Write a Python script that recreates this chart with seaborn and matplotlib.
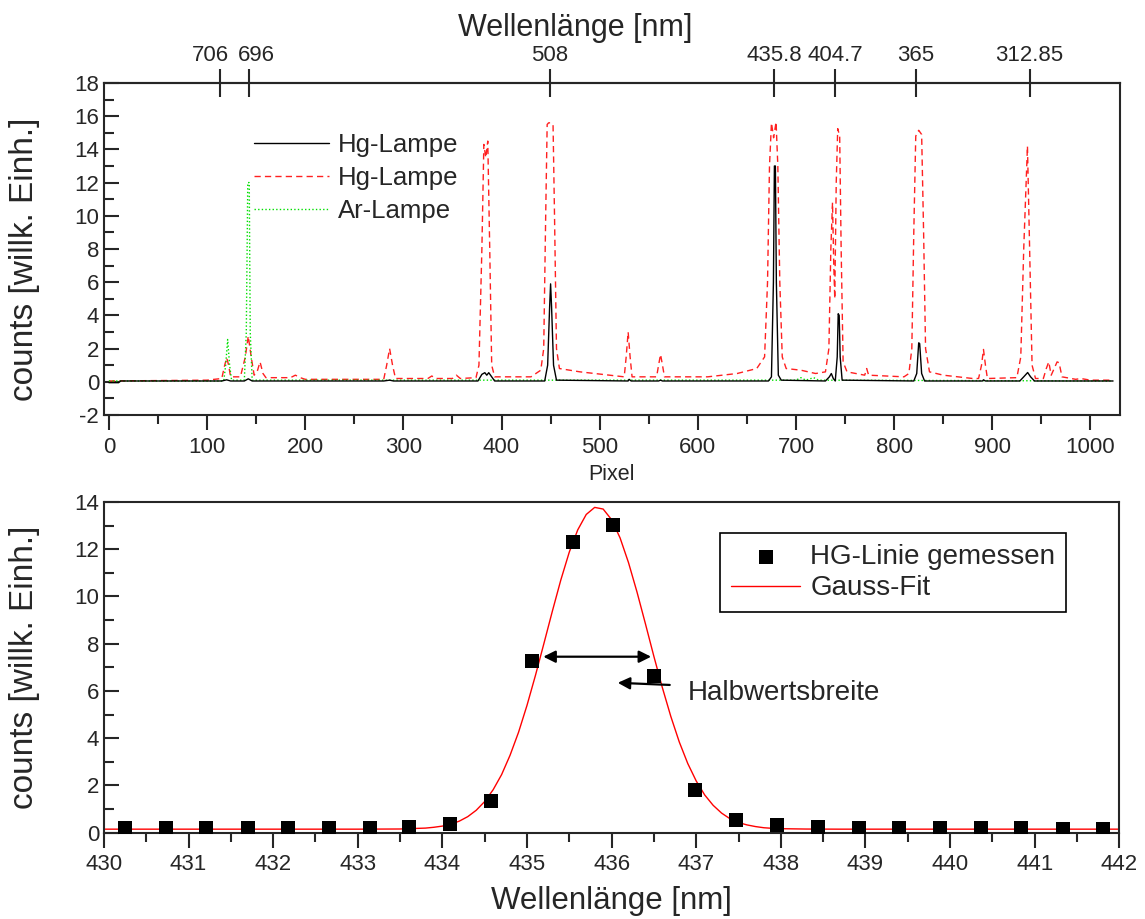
import pandas as pd
import seaborn as sns
import matplotlib.pyplot as plt
from matplotlib.ticker import MultipleLocator
from matplotlib.transforms import ScaledTranslation

#%% Data
# Hg lamp, short exposure (black, solid) -- pixel / counts vertices
hg1_px = [0, 10, 12, 115, 120, 124, 138, 142, 146, 280, 286, 290, 376, 380, 383, 385, 387, 390, 393,
          444, 447, 449, 450, 451, 453, 456, 529, 530, 532, 560, 562, 564, 672, 675, 677, 678, 679,
          680, 682, 685, 730, 734, 736, 738, 740, 742, 743, 744, 745, 747, 820, 823, 825, 826, 828,
          831, 890, 891, 893, 928, 932, 936, 939, 943, 1023]
hg1_counts = [-0.05, -0.05, 0.05, 0.05, 0.12, 0.05, 0.05, 0.18, 0.05, 0.05, 0.1, 0.05, 0.05, 0.45, 0.55,
              0.4, 0.55, 0.3, 0.05, 0.05, 1.0, 4.5, 5.9, 4.5, 1.0, 0.1, 0.05, 0.15, 0.05, 0.05, 0.1,
              0.05, 0.05, 0.3, 6.0, 13.0, 13.0, 6.0, 0.4, 0.1, 0.05, 0.3, 0.5, 0.2, 0.05, 1.5, 4.1,
              4.0, 1.5, 0.1, 0.05, 0.5, 2.35, 2.3, 0.5, 0.05, 0.05, 0.12, 0.05, 0.05, 0.3, 0.56, 0.3,
              0.05, 0.05]

# Hg lamp, long exposure (red, dashed)
hg2_px = [0, 100, 115, 118, 120, 122, 124, 134, 139, 142, 145, 148, 151, 154, 157, 160, 185, 190, 195,
          200, 280, 283, 286, 289, 292, 325, 329, 333, 350, 354, 358, 374, 377, 380, 382, 384, 386,
          388, 390, 393, 430, 440, 443, 445, 446.5, 448, 450, 452.5, 454, 456, 459, 480, 510, 525,
          527, 529, 531, 533, 558, 560, 562, 564, 566, 610, 640, 660, 668, 671, 673, 675, 677.2,
          679.7, 681.5, 683.5, 686, 690, 705, 720, 730, 733.5, 735.5, 737.2, 738.5, 739.5, 741,
          742.5, 744.5, 746, 748, 752, 770, 772, 774, 810, 815, 818, 820, 822, 825, 828, 830, 832,
          836, 850, 880, 886, 889, 891, 893, 895, 925, 929, 932, 935.8, 938, 940.5, 944, 952, 955,
          957.5, 960, 963, 966, 968, 971, 985, 990, 1000, 1023]
hg2_counts = [0.05, 0.1, 0.2, 1.0, 1.45, 1.0, 0.3, 0.3, 1.5, 2.75, 1.5, 0.4, 0.6, 1.2, 0.5, 0.25, 0.25,
              0.4, 0.25, 0.15, 0.15, 1.0, 2.0, 1.0, 0.2, 0.2, 0.35, 0.2, 0.2, 0.4, 0.2, 0.25, 1.0,
              8.0, 14.3, 13.5, 14.5, 8.0, 1.0, 0.3, 0.3, 0.7, 2.0, 10.0, 15.5, 15.6, 15.6, 15.5, 10.0,
              2.0, 0.8, 0.6, 0.4, 0.3, 1.5, 3.0, 1.5, 0.3, 0.3, 1.0, 1.65, 1.0, 0.3, 0.3, 0.5, 0.8,
              1.5, 6.0, 13.0, 15.6, 14.7, 15.65, 13.0, 6.0, 1.5, 0.8, 0.7, 0.5, 0.6, 2.0, 8.0, 10.8,
              7.0, 5.0, 12.0, 15.25, 14.8, 8.0, 1.2, 0.6, 0.4, 0.8, 0.4, 0.3, 0.5, 2.0, 9.0, 14.8,
              15.15, 14.9, 9.0, 2.0, 0.6, 0.4, 0.2, 0.2, 1.0, 1.95, 1.0, 0.2, 0.25, 1.5, 8.0, 14.2,
              8.0, 1.0, 0.2, 0.2, 0.8, 1.2, 0.4, 0.8, 1.2, 1.15, 0.3, 0.15, 0.2, 0.1, 0.1]

# Ar lamp (green, dotted)
ar_px = [0, 117, 119, 121, 123, 125, 138, 140, 141.5, 143, 144, 146, 700, 705, 710, 718, 723, 1023]
ar_counts = [0.05, 0.05, 1.0, 2.55, 1.0, 0.1, 0.1, 3.0, 12.0, 12.0, 3.0, 0.1, 0.1, 0.25, 0.1, 0.25,
             0.1, 0.05]

# known wavelengths on the top axis
top_px = [113.7, 142.6, 449.3, 678, 740, 822, 938]
top_labels = ["706", "696", "508", "435.8", "404.7", "365", "312.85"]

# single Hg line, measured
line_wl = [430.25, 430.73, 431.21, 431.70, 432.18, 432.66, 433.14, 433.61, 434.09, 434.58, 435.06,
           435.54, 436.02, 436.50, 436.99, 437.47, 437.95, 438.44, 438.92, 439.40, 439.88, 440.37,
           440.84, 441.33, 441.81]
line_counts = [0.18, 0.18, 0.18, 0.18, 0.18, 0.18, 0.19, 0.23, 0.35, 1.35, 7.25, 12.3, 13.04, 6.65,
               1.80, 0.54, 0.32, 0.25, 0.21, 0.19, 0.18, 0.18, 0.18, 0.17, 0.17]

# Gauss fit curve
fit_wl = [430.0, 433.0, 433.5, 433.8, 433.9, 434.0, 434.1, 434.2, 434.3, 434.4, 434.5, 434.6, 434.7,
          434.8, 434.9, 435.0, 435.1, 435.2, 435.3, 435.4, 435.5, 435.6, 435.7, 435.8, 435.9, 436.0,
          436.1, 436.2, 436.3, 436.4, 436.5, 436.6, 436.7, 436.8, 436.9, 437.0, 437.1, 437.2, 437.3,
          437.4, 437.5, 437.6, 437.7, 437.8, 437.9, 438.0, 438.3, 438.7, 442.0]
fit_counts = [0.15, 0.15, 0.157, 0.195, 0.23, 0.28, 0.36, 0.49, 0.68, 0.95, 1.32, 1.82, 2.46, 3.28,
              4.25, 5.39, 6.66, 8.01, 9.38, 10.70, 11.88, 12.82, 13.47, 13.77, 13.70, 13.25, 12.48,
              11.43, 10.19, 8.84, 7.46, 6.14, 4.92, 3.84, 2.93, 2.19, 1.60, 1.16, 0.83, 0.59, 0.43,
              0.33, 0.26, 0.21, 0.185, 0.17, 0.155, 0.15, 0.15]

#%% Style
sns.set_style("ticks")
plt.rcParams["font.family"] = ["Liberation Sans", "DejaVu Sans"]
plt.rcParams["axes.linewidth"] = 1.5
plt.rcParams["axes.unicode_minus"] = False

fig = plt.figure(figsize=(11.45, 9.19), dpi=100)
ax1 = fig.add_axes([0.0908, 0.5484, 0.8873, 0.3613])
ax2 = fig.add_axes([0.0908, 0.0939, 0.8867, 0.3599])

#%% Top panel: spectra
sns.lineplot(x=hg2_px, y=hg2_counts, ax=ax1, sort=False, estimator=None, color="#ff2020",
             lw=1.0, dashes=(4.5, 3))
sns.lineplot(x=ar_px, y=ar_counts, ax=ax1, sort=False, estimator=None, color="#00e000",
             lw=1.0, dashes=(1, 1.6))
sns.lineplot(x=hg1_px, y=hg1_counts, ax=ax1, sort=False, estimator=None, color="black", lw=1.0)
red_line, green_line, black_line = ax1.get_lines()[:3]

ax1.set_xlim(-5, 1030)
ax1.set_ylim(-2, 18)
ax1.xaxis.set_major_locator(MultipleLocator(100))
ax1.xaxis.set_minor_locator(MultipleLocator(50))
ax1.yaxis.set_major_locator(MultipleLocator(2))
ax1.yaxis.set_minor_locator(MultipleLocator(1))
ax1.tick_params(axis="x", which="both", direction="out", top=False, width=1.5, labelsize=16, pad=5)
ax1.tick_params(axis="x", which="major", length=11)
ax1.tick_params(axis="x", which="minor", length=6.5)
ax1.tick_params(axis="y", which="both", direction="in", right=False, width=1.5, labelsize=16)
ax1.tick_params(axis="y", which="major", length=11)
ax1.tick_params(axis="y", which="minor", length=7)
ax1.set_xlabel("Pixel", fontsize=15.5, labelpad=4)
ax1.set_ylabel("counts [willk. Einh.]", fontsize=24)
ax1.yaxis.set_label_coords(-0.063, 0.47)

ax1.legend(handles=[black_line, red_line, green_line], labels=["Hg-Lampe", "Hg-Lampe", "Ar-Lampe"],
           loc="upper left", bbox_to_anchor=(0.148, 0.85), frameon=False, fontsize=18.5,
           borderpad=0, borderaxespad=0, handlelength=2.9, handletextpad=0.35, labelspacing=0.35)

sec = ax1.secondary_xaxis("top")
sec.set_xticks(top_px, labels=top_labels)
sec.tick_params(direction="inout", length=20, width=1.5, labelsize=16, pad=2)
sec.set_xlabel("Wellenlänge [nm]", fontsize=22)
sec.xaxis.set_label_coords(0.4636, 1.142, transform=ax1.transAxes)
for lab, dx in zip(sec.get_xticklabels(), [-10, 8, 0, 0, 0, 0, 0]):
    lab.set_transform(lab.get_transform() + ScaledTranslation(dx / 100, 0, fig.dpi_scale_trans))

#%% Bottom panel: single line with Gauss fit
sns.scatterplot(x=line_wl, y=line_counts, ax=ax2, marker="s", s=95, color="black", linewidth=0,
                label="HG-Linie gemessen", zorder=3)
sns.lineplot(x=fit_wl, y=fit_counts, ax=ax2, sort=False, estimator=None, color="red", lw=1.0,
             label="Gauss-Fit", zorder=2)

ax2.set_xlim(430, 442)
ax2.set_ylim(0, 14)
ax2.xaxis.set_major_locator(MultipleLocator(1))
ax2.xaxis.set_minor_locator(MultipleLocator(0.5))
ax2.yaxis.set_major_locator(MultipleLocator(2))
ax2.yaxis.set_minor_locator(MultipleLocator(1))
ax2.tick_params(axis="x", which="both", direction="out", top=False, width=1.5, labelsize=16, pad=4)
ax2.tick_params(axis="x", which="major", length=11)
ax2.tick_params(axis="x", which="minor", length=6.5)
ax2.tick_params(axis="y", which="both", direction="in", right=False, width=1.5, labelsize=16)
ax2.tick_params(axis="y", which="major", length=11)
ax2.tick_params(axis="y", which="minor", length=7)
ax2.set_xlabel("Wellenlänge [nm]", fontsize=22.5, labelpad=8)
ax2.set_ylabel("counts [willk. Einh.]", fontsize=24)
ax2.yaxis.set_label_coords(-0.063, 0.5)

leg = ax2.legend(loc="upper right", bbox_to_anchor=(0.948, 0.907), frameon=True, fancybox=False,
                 edgecolor="black", framealpha=1, borderaxespad=0, fontsize=20, handlelength=2.5,
                 handletextpad=0.36, labelspacing=0.2, borderpad=0.4)
leg.get_frame().set_linewidth(1.2)

# FWHM arrows and label
ax2.annotate("", xy=(435.16, 7.45), xytext=(436.50, 7.45),
             arrowprops=dict(arrowstyle="<|-|>", color="black", lw=1.6, mutation_scale=18))
ax2.annotate("", xy=(436.04, 6.35), xytext=(436.72, 6.25),
             arrowprops=dict(arrowstyle="-|>", color="black", lw=1.6, mutation_scale=18))
ax2.text(436.9, 5.93, "Halbwertsbreite", fontsize=20, ha="left", va="center")

fig.savefig("out.png", dpi=100)
